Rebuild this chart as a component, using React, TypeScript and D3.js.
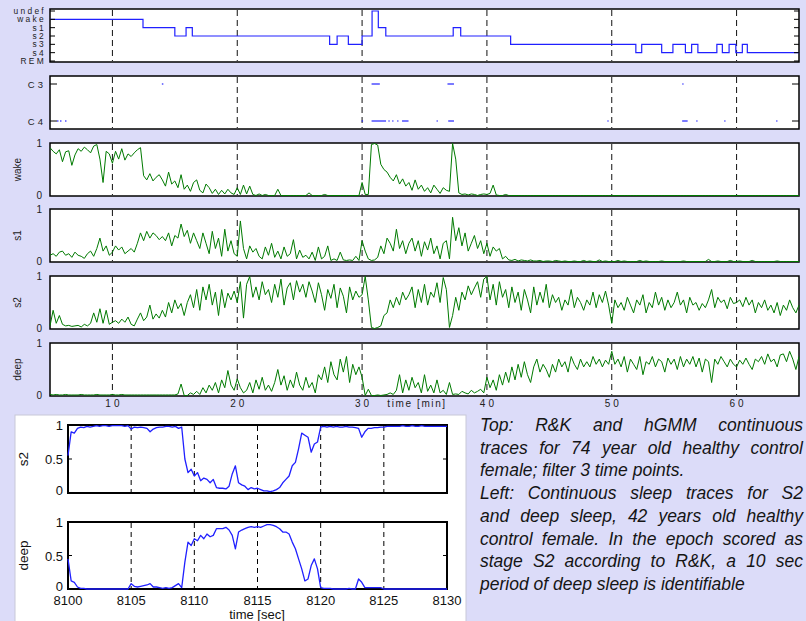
import React from 'react';
import * as d3 from 'd3';

// ---- main figure data (time in minutes) ----
const stageNames = ['undef', 'wake', 's1', 's2', 's3', 's4', 'REM'];

// R&K hypnogram: stage changes
const hypnoStart = [5, 12.45, 15.0, 15.9, 16.4, 27.4, 28.0, 28.9, 30.0, 30.8, 31.3, 31.9, 37.3, 37.9, 41.9,
  51.93, 52.4, 54.0, 54.9, 55.9, 56.4, 56.9, 58.42, 58.86, 59.4, 59.94, 60.46, 60.86];
const hypnoStage = ['wake', 's1', 's2', 's1', 's2', 's3', 's2', 's3', 's2', 'undef', 's1', 's2', 's1', 's2', 's3',
  's4', 's3', 's4', 's3', 's4', 's3', 's4', 's3', 's4', 's3', 's4', 's3', 's4'];

// C3 / C4 channel marks [start, end] in minutes
const c3From = [13.96, 30.76, 36.84, 55.64];
const c3To = [13.96, 31.3, 37.24, 55.64];
const c4From = [5.56, 5.8, 6.2, 29.96, 30.76, 32.1, 32.4, 32.8, 33.2, 35.96, 36.9, 49.64, 55.64, 56.76, 59.0, 63.16];
const c4To = [5.56, 5.8, 6.2, 29.96, 31.8, 32.1, 32.4, 32.8, 33.6, 35.96, 37.24, 49.64, 55.96, 56.76, 59.0, 63.16];

// hGMM traces, one value every 0.25 min from 5 to 65
const traceStart = 5;
const traceStep = 0.25;

const wake = [
  .92, .85, .80, .88, .65, .84, .86, .58, .78, .90, .85, .93, .88, .82, .95, .98,
  .70, .25, .85, .80, .62, .85, .70, .90, .68, .80, .75, .82, .88, .92, .38, .30,
  .42, .28, .35, .40, .30, .18, .45, .22, .28, .15, .40, .12, .20, .08, .25, .30,
  .10, .05, .22, .15, .04, .12, .02, .10, .03, .12, .05, .02, .15, .02, .20, .03,
  .18, .02, .00, .03, .00, .02, .00, .00, .00, .12, .00, .00, .00, .00, .00, .00,
  .00, .00, .00, .05, .00, .00, .00, .00, .02, .00, .00, .00, .00, .00, .00, .00,
  .00, .00, .00, .00, .25, .02, .02, .98, 1.0, .97, .60, .50, .45, .35, .28, .40,
  .22, .32, .18, .25, .10, .30, .12, .20, .08, .15, .05, .20, .12, .04, .15, .10,
  .08, 1.0, .70, .05, .02, .03, .01, .03, .02, .00, .02, .03, .02, .04, .20, .01,
  .00, .00, .02, .00, .00, .00, .00, .00, .00, .00, .00, .00, .00, .00, .00, .00,
  .00, .00, .00, .00, .00, .00, .00, .00, .00, .00, .00, .00, .00, .00, .00, .00,
  .00, .00, .00, .00, .00, .00, .00, .00, .00, .00, .00, .00, .00, .00, .00, .00,
  .00, .00, .00, .00, .00, .00, .00, .00, .00, .00, .00, .00, .00, .00, .00, .00,
  .00, .00, .00, .00, .00, .00, .00, .00, .00, .00, .00, .00, .00, .00, .00, .00,
  .00, .00, .00, .00, .00, .00, .00, .00, .00, .00, .00, .00, .00, .00, .00, .00,
  .00,
];

const s1 = [
  .12, .15, .10, .18, .20, .12, .15, .08, .18, .12, .10, .06, .15, .20, .10, .25,
  .45, .20, .30, .12, .18, .30, .22, .28, .15, .20, .25, .18, .35, .55, .40, .58,
  .45, .55, .50, .42, .48, .40, .55, .30, .50, .45, .72, .48, .60, .35, .55, .40,
  .25, .55, .35, .15, .58, .25, .45, .10, .62, .20, .40, .15, .10, .78, .25, .05,
  .30, .18, .25, .10, .05, .28, .12, .35, .08, .20, .05, .28, .10, .15, .42, .05,
  .22, .08, .12, .05, .18, .02, .28, .05, .10, .30, .02, .05, .02, .18, .03, .02,
  .03, .02, .10, .02, .40, .20, .05, .02, .03, .08, .30, .15, .45, .35, .20, .62,
  .25, .40, .15, .35, .45, .20, .40, .10, .38, .22, .45, .15, .30, .05, .35, .40,
  .05, .85, .40, .65, .30, .55, .20, .35, .50, .25, .40, .15, .35, .10, .28, .20,
  .25, .05, .10, .03, .02, .04, .01, .03, .02, .01, .03, .01, .01, .02, .00, .01,
  .01, .00, .02, .01, .00, .01, .00, .00, .01, .00, .00, .02, .00, .01, .00, .00,
  .03, .00, .01, .00, .00, .00, .02, .00, .01, .00, .00, .00, .00, .02, .00, .01,
  .00, .00, .00, .00, .01, .00, .00, .00, .00, .00, .00, .01, .00, .00, .00, .00,
  .00, .00, .00, .04, .00, .00, .01, .00, .00, .00, .02, .00, .00, .01, .00, .00,
  .00, .02, .00, .00, .00, .00, .00, .00, .00, .01, .00, .00, .00, .00, .00, .00,
  .00,
];

const s2 = [
  .05, .35, .10, .25, .08, .05, .06, .04, .05, .06, .03, .08, .05, .10, .30, .12,
  .38, .10, .35, .08, .12, .15, .10, .18, .12, .22, .08, .05, .18, .30, .15, .22,
  .45, .18, .28, .20, .35, .22, .50, .30, .55, .38, .48, .25, .50, .65, .40, .75,
  .35, .80, .55, .85, .45, .70, .25, .75, .40, .68, .55, .72, .50, .90, .20, .85,
  1.0, .60, .80, .55, .90, .65, .75, .50, .85, .60, .95, .45, .78, .88, .55, .92,
  .70, .85, .60, .90, .72, .50, .88, .65, .35, .75, .58, .85, .40, .78, .62, .30,
  .80, .55, .72, .60, .65, 1.0, .55, .02, .00, .02, .05, .25, .30, .55, .40, .60,
  .45, .70, .55, .65, .80, .40, .75, .50, .85, .45, .70, .60, .88, .50, .98, .75,
  .02, .25, .60, .35, .70, .55, .82, .65, .78, .90, .60, .95, 1.0, .55, .85, .45,
  .90, .60, .75, .40, .80, .50, .70, .35, .75, .55, .30, .80, .45, .70, .50, .85,
  .40, .65, .50, .60, .35, .55, .45, .75, .40, .60, .50, .35, .55, .45, .70, .40,
  .65, .50, .72, .45, .10, .55, .40, .50, .35, .60, .45, .30, .55, .45, .65, .30,
  .50, .40, .70, .45, .60, .35, .55, .40, .50, .70, .45, .55, .30, .60, .45, .50,
  .35, .48, .40, .55, .75, .40, .60, .50, .55, .38, .60, .48, .50, .55, .42, .60,
  .45, .55, .30, .50, .40, .55, .35, .45, .30, .50, .25, .45, .35, .55, .40, .30,
  .45,
];

const deep = [
  .02, .01, .02, .01, .01, .02, .01, .01, .01, .01, .02, .01, .01, .01, .01, .02,
  .01, .01, .01, .01, .02, .01, .01, .02, .01, .01, .01, .01, .01, .01, .01, .01,
  .01, .01, .01, .01, .01, .01, .01, .01, .01, .03, .22, .00, .00, .05, .02, .08,
  .02, .15, .05, .20, .10, .25, .05, .30, .15, .48, .20, .10, .32, .15, .05, .10,
  .25, .05, .30, .12, .35, .10, .20, .08, .25, .50, .20, .38, .10, .30, .15, .45,
  .20, .10, .35, .15, .25, .05, .40, .30, .55, .25, .65, .40, .30, .70, .45, .75,
  .25, .60, .40, .55, .35, .00, .12, .00, .00, .01, .00, .01, .02, .05, .02, .10,
  .40, .05, .30, .10, .35, .15, .25, .05, .40, .08, .20, .05, .30, .05, .10, .02,
  .25, .02, .03, .02, .08, .05, .03, .10, .05, .08, .12, .05, .35, .15, .30, .10,
  .40, .20, .45, .25, .55, .30, .60, .35, .65, .40, .25, .55, .70, .45, .60, .50,
  .35, .60, .45, .70, .55, .65, .45, .75, .60, .50, .70, .55, .65, .55, .75, .60,
  .70, .55, .68, .60, .85, .60, .70, .55, .75, .45, .70, .60, .50, .75, .40, .65,
  .60, .75, .55, .70, .65, .45, .72, .60, .70, .50, .75, .55, .70, .60, .75, .55,
  .72, .45, .70, .65, .25, .70, .60, .75, .65, .55, .70, .60, .55, .68, .60, .72,
  .60, .50, .70, .65, .75, .60, .80, .65, .70, .55, .78, .80, .65, .85, .70, .50,
  .75,
];

const traceNames = ['wake', 's1', 's2', 'deep'];
const traceSeries = [wake, s1, s2, deep];
const mainTicks = [10, 20, 30, 40, 50, 60];

// ---- inset data (time in seconds), one value every 0.25 s ----
const insetStart = 8100;
const insetStep = 0.25;
const insetS2 = [
  .55, .90, .88, .95, .97, .96, .98, .97, .98, .99, .98, .99, .99, .98, .99, .99,
  .99, .99, .98, .99, .94, .97, .96, .97, .96, .95, .90, .94, .96, .97, .97, .98,
  .98, .97, .98, .95, .97, .50, .30, .35, .25, .30, .18, .22, .20, .15, .20, .08,
  .07, .07, .06, .10, .28, .40, .15, .12, .10, .05, .08, .06, .07, .05, .03, .03,
  .02, .03, .05, .08, .15, .20, .25, .40, .45, .65, .88, .85, .82, .60, .72, .75,
  .97, .98, .97, .98, .97, .98, .97, .97, .98, .97, .97, .96, .95, .82, .90, .95,
  .95, .96, .96, .97, .97, .98, .98, .98, .98, .98, .99, .98, .98, .99, .98, .98,
  .99, .98, .98, .98, .98, .98, .98, .98, .98,
];
const insetDeep = [
  .45, .12, .10, .03, .01, .01, .00, .00, .00, .00, .00, .00, .00, .00, .00, .00,
  .00, .00, .00, .00, .08, .04, .03, .04, .05, .06, .08, .03, .03, .02, .01, .02,
  .01, .02, .05, .08, .02, .40, .70, .65, .75, .72, .80, .75, .82, .78, .80, .90,
  .90, .90, .92, .88, .80, .60, .85, .88, .90, .92, .93, .92, .93, .92, .94, .96,
  .96, .95, .93, .90, .85, .85, .82, .70, .60, .45, .30, .12, .15, .35, .45, .30,
  .02, .01, .01, .01, .00, .00, .00, .00, .00, .01, .00, .00, .15, .10, .02, .02,
  .02, .02, .02, .02, .00, .00, .00, .00, .00, .00, .00, .00, .00, .00, .00, .00,
  .00, .00, .00, .00, .00, .00, .00, .00, .00,
];
const insetNames = ['s2', 'deep'];
const insetSeries = [insetS2, insetDeep];
const insetTicks = [8100, 8105, 8110, 8115, 8120, 8125, 8130];
const insetYTicks = [0, 0.5, 1];

const captionLines = [
  'Top: R&K and hGMM continuous',
  'traces for 74 year old healthy control',
  'female; filter 3 time points.',
  'Left: Continuous sleep traces for S2',
  'and deep sleep, 42 years old healthy',
  'control female. In the epoch scored as',
  'stage S2 according to R&K, a 10 sec',
  'period of deep sleep is identifiable',
];
const captionJustify = [true, true, false, true, true, true, true, false];

const BG = '#dcdcf9';
const GREEN = '#007a00';
const BLUE = '#2020ff';
const SANS = "'Liberation Sans', Arial, sans-serif";
const CAPTION_FONT = `italic 17.5px 'Liberation Sans'`;

let measureCtx: CanvasRenderingContext2D | null = null;
function textWidth(s: string) {
  if (!measureCtx) measureCtx = document.createElement('canvas').getContext('2d');
  if (!measureCtx) return s.length * 8;
  measureCtx.font = CAPTION_FONT;
  return measureCtx.measureText(s).width;
}

function Caption() {
  const left = 480, right = 803, top = 431, lh = 22.7;
  const out: any[] = [];
  captionLines.forEach((line, li) => {
    const words = line.split(' ');
    const widths = words.map(textWidth);
    const total = d3.sum(widths);
    const gap = captionJustify[li] && words.length > 1
      ? (right - left - total) / (words.length - 1)
      : textWidth(' ');
    let x = left;
    words.forEach((w, wi) => {
      out.push(
        <text key={li + '-' + wi} x={x} y={top + li * lh} fontFamily={SANS} fontStyle="italic"
          fontSize={17.5} fill="#151515">{w}</text>
      );
      x += widths[wi] + gap;
    });
  });
  return <g>{out}</g>;
}

export default function App() {
  const x = d3.scaleLinear().domain([5, 65]).range([50, 799]);
  const hyp = { top: 9, bottom: 62 };
  const cc = { top: 76, bottom: 129 };
  const panels = [
    { top: 143, bottom: 196 },
    { top: 209, bottom: 262 },
    { top: 276, bottom: 329 },
    { top: 343, bottom: 396 },
  ];
  const stageY = d3.scalePoint<string>().domain(stageNames).range([11, 61]);
  const ccY = d3.scalePoint<string>().domain(['C3', 'C4']).range([84, 121]);

  const hypPts: [number, string][] = hypnoStage.map((s, i) => [hypnoStart[i], s]);
  hypPts.push([65, hypnoStage[hypnoStage.length - 1]]);
  const hypLine = d3.line<[number, string]>()
    .x(d => x(d[0]))
    .y(d => stageY(d[1]) as number)
    .curve(d3.curveStepAfter);

  const frame = (p: { top: number; bottom: number }, key: string) => (
    <rect key={key} x={50} y={p.top} width={749} height={p.bottom - p.top} fill="#fff" stroke="#000" strokeWidth={1.5} />
  );
  const grid = (p: { top: number; bottom: number }, key: string) => (
    <g key={key}>
      {mainTicks.map(t => (
        <line key={t} x1={x(t)} x2={x(t)} y1={p.top + 1} y2={p.bottom - 1} stroke="#111" strokeWidth={1} strokeDasharray="6,4" />
      ))}
    </g>
  );

  // inset scales
  const ix = d3.scaleLinear().domain([8100, 8130]).range([68, 447]);
  const insetPanels = [
    { top: 425, bottom: 493 },
    { top: 522, bottom: 589 },
  ];

  return (
    <svg width={806} height={621} style={{ position: 'absolute', left: 0, top: 0 }} fontFamily={SANS}>
      <rect width={806} height={621} fill={BG} />

      {/* hypnogram */}
      {frame(hyp, 'hf')}
      {grid(hyp, 'hg')}
      <path d={hypLine(hypPts) || ''} fill="none" stroke={BLUE} strokeWidth={1.2} />
      {stageNames.map(s => (
        <g key={s}>
          <line x1={50} x2={55} y1={stageY(s)} y2={stageY(s)} stroke="#000" />
          <line x1={794} x2={799} y1={stageY(s)} y2={stageY(s)} stroke="#000" />
          <text x={46} y={(stageY(s) as number) + 3} textAnchor="end" fontSize={8.4} letterSpacing={2.3} fill="#222">{s}</text>
        </g>
      ))}

      {/* C3 / C4 */}
      {frame(cc, 'cf')}
      {grid(cc, 'cg')}
      {['C3', 'C4'].map(c => (
        <g key={c}>
          <line x1={50} x2={57} y1={ccY(c)} y2={ccY(c)} stroke="#000" />
          <line x1={792} x2={799} y1={ccY(c)} y2={ccY(c)} stroke="#000" />
          <text x={46} y={(ccY(c) as number) + 3.5} textAnchor="end" fontSize={9.5} letterSpacing={3} fill="#222">{c}</text>
        </g>
      ))}
      {c3From.map((s, i) => (
        <line key={'c3' + i} x1={x(s)} x2={x(c3To[i]) + 1.5} y1={ccY('C3')} y2={ccY('C3')} stroke={BLUE} strokeWidth={1.2} />
      ))}
      {c4From.map((s, i) => (
        <line key={'c4' + i} x1={x(s)} x2={x(c4To[i]) + 1.5} y1={ccY('C4')} y2={ccY('C4')} stroke={BLUE} strokeWidth={1.2} />
      ))}

      {/* hGMM traces */}
      {traceSeries.map((vals, k) => {
        const p = panels[k];
        const y = d3.scaleLinear().domain([0, 1]).range([p.bottom - 0.5, p.top + 0.5]);
        const line = d3.line<number>()
          .x((_, i) => x(traceStart + i * traceStep))
          .y(v => y(v));
        return (
          <g key={traceNames[k]}>
            {frame(p, 'f')}
            {grid(p, 'g')}
            <path d={line(vals) || ''} fill="none" stroke={GREEN} strokeWidth={1} strokeLinejoin="round" />
            <text x={42} y={p.top + 4} textAnchor="end" fontSize={10} fill="#222">1</text>
            <text x={42} y={p.bottom + 3} textAnchor="end" fontSize={10} fill="#222">0</text>
            <text transform={`translate(21,${(p.top + p.bottom) / 2}) rotate(-90)`} textAnchor="middle" fontSize={10} fill="#222">{traceNames[k]}</text>
          </g>
        );
      })}
      {mainTicks.map(t => (
        <text key={t} x={x(t) + 1.5} y={407} textAnchor="middle" fontSize={10} letterSpacing={3} fill="#222">{String(t)}</text>
      ))}
      <text x={417} y={407} textAnchor="middle" fontSize={10} letterSpacing={1.6} fill="#222">time [min]</text>

      {/* inset */}
      <rect x={15} y={415} width={451} height={210} fill="#fff" stroke="#c8c8d8" strokeWidth={1} />
      {insetSeries.map((vals, k) => {
        const p = insetPanels[k];
        const y = d3.scaleLinear().domain([0, 1]).range([p.bottom, p.top]);
        const line = d3.line<number>()
          .x((_, i) => ix(insetStart + i * insetStep))
          .y(v => y(v));
        return (
          <g key={insetNames[k]}>
            <rect x={68} y={p.top} width={379} height={p.bottom - p.top} fill="#fff" stroke="#000" strokeWidth={2} />
            {insetTicks.slice(1, -1).map(t => (
              <line key={t} x1={ix(t)} x2={ix(t)} y1={p.top + 1} y2={p.bottom - 1} stroke="#000" strokeWidth={1} strokeDasharray="5,4" />
            ))}
            {insetYTicks.map(t => (
              <g key={t}>
                <line x1={68} x2={72} y1={y(t)} y2={y(t)} stroke="#000" />
                <line x1={443} x2={447} y1={y(t)} y2={y(t)} stroke="#000" />
                <text x={63} y={y(t) + (t === 0 ? 2 : 5)} textAnchor="end" fontSize={13} fill="#111">{String(t)}</text>
              </g>
            ))}
            <path d={line(vals) || ''} fill="none" stroke={BLUE} strokeWidth={1.3} strokeLinejoin="round" />
            <text transform={`translate(28,${(p.top + p.bottom) / 2}) rotate(-90)`} textAnchor="middle" fontSize={13.5} fill="#111">{insetNames[k]}</text>
          </g>
        );
      })}
      {insetTicks.map(t => (
        <text key={t} x={ix(t)} y={605} textAnchor="middle" fontSize={13} fill="#111">{String(t)}</text>
      ))}
      <text x={257} y={619} textAnchor="middle" fontSize={13} fill="#111">time [sec]</text>

      <Caption />
    </svg>
  );
}
